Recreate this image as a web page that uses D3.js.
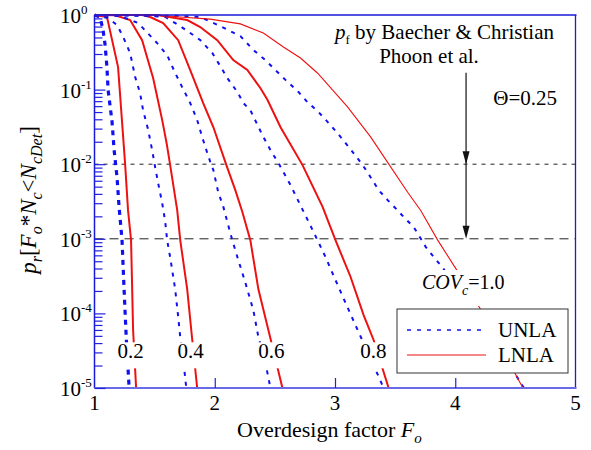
<!DOCTYPE html>
<html><head><meta charset="utf-8">
<script src="https://cdn.jsdelivr.net/npm/d3@7"></script>
<style>
body{margin:0;background:#fff}
svg{display:block}
svg text{font-family:'Liberation Serif','Times New Roman',Times,'DejaVu Serif',serif;fill:#000}
</style>
</head><body>
<svg id="c" width="591" height="450" font-family="'Liberation Serif','Times New Roman',Times,'DejaVu Serif',serif"></svg>
<script>
// ---------- data ----------
// COV = 0.2
const fU02 = [1.000,1.046,1.071,1.088,1.104,1.113,1.146,1.163,1.188,1.204,1.229,1.246,1.263,1.288];
const pU02 = [1,0.94,0.63,0.40,0.195,0.099,0.037,0.0155,0.0065,0.0027,0.00096,0.00021,5.1e-5,1e-5];
const fL02 = [1.000,1.104,1.196,1.254,1.279,1.304,1.321,1.346];
const pL02 = [1,0.94,0.20,0.0104,0.0024,0.00096,6e-5,1e-5];
// COV = 0.4
const fU04 = [1.000,1.113,1.188,1.238,1.296,1.338,1.379,1.404,1.446,1.479,1.504,1.529,1.563,1.588,1.604,1.629,1.671,1.696,1.713,1.754,1.763];
const pU04 = [1,0.91,0.73,0.51,0.31,0.148,0.090,0.053,0.029,0.0155,0.0092,0.0056,0.0030,0.0017,0.00096,0.00057,0.00021,9e-5,4.8e-5,1.4e-5,1e-5];
const fL04 = [1.000,1.171,1.296,1.396,1.488,1.563,1.600,1.629,1.688,1.713,1.771,1.813,1.854];
const pL04 = [1,0.99,0.857,0.46,0.142,0.039,0.019,0.0098,0.0024,0.00096,0.00021,4.4e-5,1e-5];
// COV = 0.6
const fU06 = [1.000,1.213,1.363,1.521,1.604,1.671,1.729,1.796,1.854,1.896,1.938,1.971,1.988,2.029,2.071,2.129,2.146,2.188,2.254,2.321,2.363,2.421,2.463];
const pU06 = [1,0.97,0.78,0.42,0.29,0.167,0.108,0.066,0.039,0.023,0.0141,0.0098,0.0084,0.0042,0.0027,0.0012,0.00096,0.00057,0.00026,1.1e-4,4.8e-5,2.2e-5,1e-5];
const fL06 = [1.000,1.396,1.463,1.571,1.696,1.796,1.904,1.988,2.096,2.171,2.229,2.296,2.363,2.446,2.563];
const pL06 = [1,1,0.94,0.78,0.46,0.183,0.066,0.0315,0.0098,0.0045,0.0023,0.00096,0.00021,6e-5,1e-5];
// COV = 0.8
const fU08 = [1.000,1.463,1.588,1.713,1.796,1.879,1.979,2.046,2.104,2.188,2.238,2.296,2.396,2.463,2.538,2.629,2.713,2.796,2.854,2.921,3.004,3.088,3.188,3.296,3.404];
const pU08 = [1,0.97,0.94,0.71,0.574,0.462,0.31,0.207,0.143,0.093,0.066,0.053,0.0246,0.0155,0.0098,0.0053,0.0028,0.0015,0.00096,0.00057,0.00028,0.000138,6e-5,2.5e-5,1e-5];
const fL08 = [1.000,1.521,1.771,1.879,2.021,2.154,2.271,2.379,2.438,2.546,2.729,2.896,3.004,3.129,3.238,3.321,3.446];
const pL08 = [1,1,0.857,0.69,0.46,0.249,0.183,0.105,0.073,0.0315,0.0098,0.0027,0.00096,0.00031,9.5e-5,4.4e-5,1e-5];
// COV = 1.0
const fU10 = [1.000,1.713,1.879,2.046,2.213,2.321,2.421,2.504,2.588,2.696,2.771,2.863,2.938,3.021,3.088,3.154,3.229,3.296,3.363,3.438,3.521,3.571,3.654,3.696,3.754,3.821,3.896,4.129,4.504,4.571];
const pU10 = [1,0.97,0.94,0.71,0.52,0.34,0.249,0.183,0.135,0.093,0.068,0.050,0.037,0.026,0.0192,0.0141,0.0098,0.0067,0.0045,0.0033,0.0024,0.00196,0.00144,0.00112,0.00078,0.00057,0.00041,0.000118,1.49e-5,1e-5];
const fL10 = [1.000,1.521,1.713,1.963,2.213,2.404,2.571,2.713,2.854,3.104,3.296,3.446,3.604,3.713,3.854,4.013,4.204,4.563];
const pL10 = [1,1,0.94,0.88,0.76,0.574,0.372,0.265,0.167,0.0585,0.0232,0.0101,0.0042,0.0024,0.00096,0.00038,0.000118,1e-5];

const xTicks = [1,2,3,4,5];
const yTickExps = [0,-1,-2,-3,-4,-5];
const refLevels = [1e-2,1e-3];
const covLabels = ["0.2","0.4","0.6","0.8"];
const covLabelF = [1.30,1.80,2.47,3.32];
const covLabelP = 2.5e-5;
const arrowF = 4.09, arrowTopP = 0.168;
const legendNames = ["UNLA","LNLA"];

// ---------- scales ----------
const FONT = "'Liberation Serif','Times New Roman',Times,'DejaVu Serif',serif";
const svg = d3.select("#c");
const L = 94.5, R = 575.5, T = 15, B = 388;
const x = d3.scaleLinear().domain([1,5]).range([L,R]);
const y = d3.scaleLog().domain([1e-5,1]).range([B,T]);

svg.append("defs").append("clipPath").attr("id","plot")
  .append("rect").attr("x",L).attr("y",T-2).attr("width",R-L).attr("height",B-T+2);

const BLUE = "#1010f0", RED = "#ee1111";

// reference levels
svg.selectAll("line.ref").data(refLevels).enter().append("line")
  .attr("x1",L).attr("x2",R).attr("y1",d=>y(d)).attr("y2",d=>y(d))
  .attr("stroke","#222").attr("stroke-width",1)
  .attr("stroke-dasharray",(d,i)=> i===0 ? "4,5" : "9,6");

// curves
const series = [
  {f:fU02,p:pU02,c:BLUE,w:3.2,dash:"5,5"},
  {f:fL02,p:pL02,c:RED,w:2,dash:null},
  {f:fU04,p:pU04,c:BLUE,w:2,dash:"4,6"},
  {f:fL04,p:pL04,c:RED,w:2,dash:null},
  {f:fU06,p:pU06,c:BLUE,w:2,dash:"4,6"},
  {f:fL06,p:pL06,c:RED,w:2,dash:null},
  {f:fU08,p:pU08,c:BLUE,w:2,dash:"4,6"},
  {f:fL08,p:pL08,c:RED,w:2,dash:null},
  {f:fU10,p:pU10,c:BLUE,w:2,dash:"4,6"},
  {f:fL10,p:pL10,c:RED,w:1.1,dash:null}
];
const line = d3.line().x(d=>x(d[0])).y(d=>y(d[1]));
const gc = svg.append("g").attr("clip-path","url(#plot)");
series.forEach(s=>{
  gc.append("path").datum(s.f.map((v,i)=>[v,s.p[i]]))
    .attr("d",line).attr("fill","none").attr("stroke",s.c)
    .attr("stroke-width",s.w).attr("stroke-dasharray",s.dash);
});

// frame
const frame = svg.append("g");
frame.append("line").attr("x1",L).attr("x2",R+1).attr("y1",T).attr("y2",T).attr("stroke","#1a1ad8").attr("stroke-width",1.3);
frame.append("line").attr("x1",R).attr("x2",R).attr("y1",T).attr("y2",B).attr("stroke","#1a1ad8").attr("stroke-width",1.3);
frame.append("line").attr("x1",L).attr("x2",L).attr("y1",T).attr("y2",B).attr("stroke","#1a1ad8").attr("stroke-width",1.5);
frame.append("line").attr("x1",L).attr("x2",R+1).attr("y1",B).attr("y2",B).attr("stroke","#6a6ae6").attr("stroke-width",2);

// axes ticks
const minorVals = [];
yTickExps.slice(1).forEach(e=>{ for(let m=2;m<=9;m++) minorVals.push(m*Math.pow(10,e)); });
const majorVals = yTickExps.map(e=>Math.pow(10,e));
function styleAxis(g){ g.select(".domain").remove(); g.selectAll(".tick line").attr("stroke","#2020e0").attr("stroke-width",1.2); g.selectAll(".tick text").remove(); }
svg.append("g").attr("transform",`translate(${L},0)`)
  .call(d3.axisLeft(y).tickValues(minorVals).tickSize(-8).tickFormat("")).call(styleAxis);
svg.append("g").attr("transform",`translate(${L},0)`)
  .call(d3.axisLeft(y).tickValues(majorVals).tickSize(-11).tickFormat("")).call(styleAxis);
svg.append("g").attr("transform",`translate(0,${B})`)
  .call(d3.axisBottom(x).tickValues([2,3,4]).tickSize(-10).tickFormat("")).call(styleAxis);

function T_(sel){ return sel.attr("font-family",FONT); }

// tick labels
yTickExps.forEach(e=>{
  const t = T_(svg.append("text")).attr("x",60).attr("y",y(Math.pow(10,e))+8).attr("font-size",21);
  t.append("tspan").text("10");
  t.append("tspan").attr("font-size",13).attr("dy",-9).text(String(e));
});
T_(svg.selectAll("text.xt").data(xTicks).enter().append("text"))
  .attr("x",d=>x(d)).attr("y",410).attr("text-anchor","middle").attr("font-size",21).text(d=>d);

// axis titles
const xt = T_(svg.append("text")).attr("x",237).attr("y",437).attr("font-size",22);
xt.append("tspan").text("Overdesign factor ");
xt.append("tspan").attr("font-style","italic").text("F");
xt.append("tspan").attr("font-style","italic").attr("font-size",15).attr("dy",6).text("o");

const yt = T_(svg.append("text")).attr("transform","translate(36,200) rotate(-90)")
  .attr("text-anchor","middle").attr("font-size",23);
yt.append("tspan").attr("font-style","italic").text("p");
yt.append("tspan").attr("font-style","italic").attr("font-size",16).attr("dy",6).text("r");
yt.append("tspan").attr("dy",-6).text("[");
yt.append("tspan").attr("font-style","italic").text("F");
yt.append("tspan").attr("font-style","italic").attr("font-size",16).attr("dy",6).text("o");
yt.append("tspan").attr("dy",-6).text("*");
yt.append("tspan").attr("font-style","italic").text("N");
yt.append("tspan").attr("font-style","italic").attr("font-size",16).attr("dy",6).text("c");
yt.append("tspan").attr("dy",-6).text("<");
yt.append("tspan").attr("font-style","italic").text("N");
yt.append("tspan").attr("font-style","italic").attr("font-size",16).attr("dy",6).text("cDet");
yt.append("tspan").attr("dy",-6).text("]");

// COV labels with white background
covLabels.forEach((s,i)=>{
  const cx = x(covLabelF[i]), by = y(covLabelP);
  svg.append("rect").attr("x",cx-15).attr("y",by-16).attr("width",30).attr("height",26).attr("fill","#fff");
  T_(svg.append("text")).attr("x",cx).attr("y",by).attr("text-anchor","middle").attr("font-size",21).text(s);
});
// COV_c = 1.0 label
svg.append("rect").attr("x",416).attr("y",270).attr("width",94).attr("height",36).attr("fill","#fff");
const cv = T_(svg.append("text")).attr("x",422).attr("y",289).attr("font-size",20);
cv.append("tspan").attr("font-style","italic").text("COV");
cv.append("tspan").attr("font-style","italic").attr("font-size",14).attr("dy",6).text("c");
cv.append("tspan").attr("dy",-6).text("=1.0");

// annotation: p_f by ...
const an = T_(svg.append("text")).attr("x",335).attr("y",39).attr("font-size",21);
an.append("tspan").attr("font-style","italic").text("p");
an.append("tspan").attr("font-size",13).attr("dy",5).text("f");
an.append("tspan").attr("dy",-5).text(" by Baecher & Christian");
T_(svg.append("text")).attr("x",429).attr("y",63).attr("text-anchor","middle").attr("font-size",21).text("Phoon et al.");
T_(svg.append("text")).attr("x",557).attr("y",105).attr("text-anchor","end").attr("font-size",21).text("\u0398=0.25");

// arrow
const ax = x(arrowF);
svg.append("line").attr("x1",ax).attr("x2",ax).attr("y1",y(arrowTopP)).attr("y2",y(1e-3)-4)
  .attr("stroke","#333").attr("stroke-width",1.4);
refLevels.forEach(v=>{
  const ty = y(v);
  svg.append("path").attr("d",`M${ax-3.5},${ty-13}L${ax+3.5},${ty-13}L${ax},${ty}Z`).attr("fill","#111");
});

// legend
const lg = svg.append("g");
lg.append("rect").attr("x",397).attr("y",309).attr("width",171).attr("height",64)
  .attr("fill","#fff").attr("stroke","#333").attr("stroke-width",1);
lg.append("line").attr("x1",407).attr("x2",486).attr("y1",330).attr("y2",330)
  .attr("stroke",BLUE).attr("stroke-width",1.6).attr("stroke-dasharray","4,6");
lg.append("line").attr("x1",407).attr("x2",486).attr("y1",355).attr("y2",355)
  .attr("stroke",RED).attr("stroke-width",1.2);
T_(lg.selectAll("text").data(legendNames).enter().append("text"))
  .attr("x",498).attr("y",(d,i)=>337+i*25).attr("font-size",21).text(d=>d);
</script>
</body></html>
